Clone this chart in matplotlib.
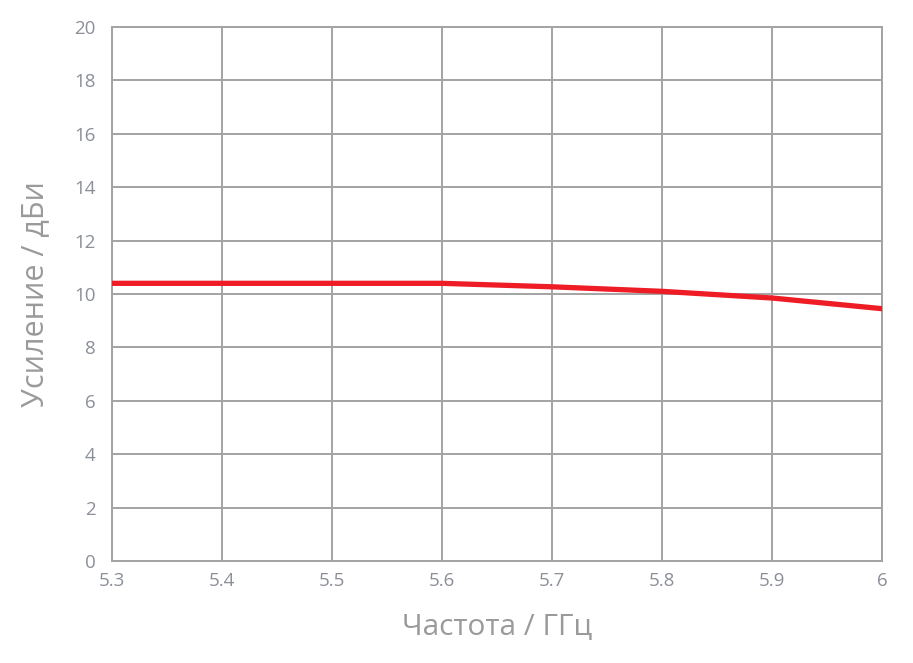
import matplotlib
matplotlib.use("Agg")
import matplotlib.pyplot as plt

# frequency (GHz) and gain (dBi)
freq = [5.3, 5.4, 5.5, 5.6, 5.7, 5.8, 5.9, 6.0]
gain = [10.4, 10.4, 10.4, 10.4, 10.27, 10.1, 9.85, 9.45]

x_ticks = [5.3, 5.4, 5.5, 5.6, 5.7, 5.8, 5.9, 6.0]
x_labels = ['5.3', '5.4', '5.5', '5.6', '5.7', '5.8', '5.9', '6']
y_ticks = list(range(0, 21, 2))

plt.rcParams['font.family'] = ['Open Sans', 'DejaVu Sans']

grid_col = '#a3a3a3'
tick_col = '#8b8f98'
label_col = '#9a9a9a'

fig = plt.figure(figsize=(9.13, 6.63), dpi=100)
ax = fig.add_axes([0.1227, 0.1538, 0.8435, 0.8055])

ax.plot(freq, gain, color='#ee1c25', linewidth=3.8, solid_capstyle='round', zorder=3)

ax.set_xlim(5.3, 6.0)
ax.set_ylim(0, 20)
ax.set_xticks(x_ticks)
ax.set_xticklabels(x_labels)
ax.set_yticks(y_ticks)
ax.grid(True, color=grid_col, linewidth=1.4)
for s in ax.spines.values():
    s.set_color(grid_col)
    s.set_linewidth(1.4)
ax.tick_params(length=0, labelsize=13.5, labelcolor=tick_col)
ax.tick_params(axis='y', pad=12)
ax.tick_params(axis='x', pad=8)

ax.set_xlabel('Частота / ГГц', fontsize=21.5, color=label_col, labelpad=16)
ax.set_ylabel('Усиление / дБи', fontsize=22, color=label_col, labelpad=17)

fig.savefig('out.png', dpi=100)
